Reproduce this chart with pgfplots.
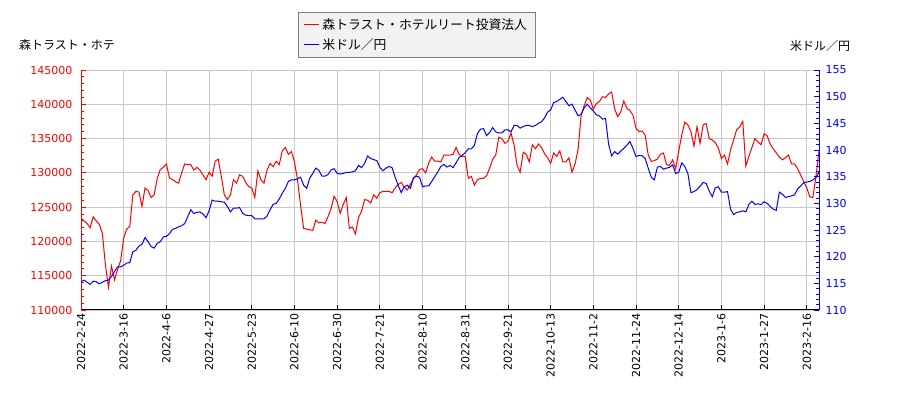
\documentclass[border=0pt]{standalone}
\usepackage{fontspec}
\setmainfont{DejaVu Sans}
\newfontfamily\cjk{Noto Sans CJK JP}
\usepackage{pgfplots}
\usepackage{pgfplotstable}
\pgfplotsset{compat=1.18}
\definecolor{gridgray}{RGB}{200,200,200}
\definecolor{legbg}{RGB}{242,242,242}

% index = trading day (ticks every 14 days), value = close
\pgfplotstableread{
i v
0 123400
1 123000
2 122600
3 122000
4 123600
5 123000
6 122500
7 121200
8 116600
9 113300
10 116400
11 114400
12 115900
13 117200
14 120500
15 121800
16 122200
17 126800
18 127300
19 127200
20 125100
21 127800
22 127400
23 126400
24 126800
25 129200
26 130500
27 130800
28 131300
29 129300
30 129000
31 128700
32 128500
33 130000
34 131300
35 131200
36 131200
37 130400
38 130800
39 130400
40 129700
41 129000
42 130100
43 129500
44 131700
45 132000
46 129500
47 126800
48 126100
49 126800
50 129000
51 128500
52 129700
53 129500
54 128600
55 128000
56 127800
57 126400
58 130300
59 129000
60 128500
61 130400
62 131400
63 130900
64 131700
65 131200
66 133200
67 133700
68 132700
69 133100
70 131600
71 129000
72 125300
73 121900
74 121800
75 121700
76 121600
77 123100
78 122700
79 122800
80 122600
81 123600
82 124800
83 126600
84 125800
85 124100
86 125400
87 126400
88 121900
89 122100
90 121100
91 123500
92 124400
93 126100
94 126000
95 125600
96 126800
97 126300
98 127100
99 127300
100 127300
101 127300
102 127100
103 127800
104 128300
105 128600
106 127900
107 127500
108 128300
109 129100
110 129700
111 130500
112 130600
113 130000
114 131400
115 132300
116 131700
117 131700
118 131600
119 132600
120 132600
121 132600
122 132700
123 133700
124 132700
125 132400
126 132400
127 129200
128 129500
129 128200
130 129000
131 129200
132 129200
133 129600
134 130700
135 132000
136 132600
137 135200
138 135000
139 134300
140 134600
141 135800
142 134100
143 131100
144 130100
145 133000
146 132700
147 131600
148 134100
149 133500
150 134200
151 133700
152 132800
153 132200
154 131400
155 132900
156 132400
157 133200
158 131600
159 131600
160 132200
161 130100
162 131300
163 133400
164 138400
165 139800
166 141000
167 140600
168 139300
169 140100
170 140400
171 141100
172 141000
173 141500
174 141800
175 139300
176 138200
177 138900
178 140500
179 139400
180 139100
181 138400
182 136500
183 136000
184 136100
185 135500
186 132600
187 131650
188 131800
189 132000
190 132700
191 132900
192 131200
193 131100
194 131900
195 130600
196 133200
197 135500
198 137400
199 137000
200 136000
201 133900
202 136750
203 134300
204 137000
205 137200
206 135000
207 134800
208 134400
209 133600
210 132100
211 132600
212 131300
213 133350
214 134800
215 136300
216 136700
217 137500
218 131000
219 132400
220 133700
221 135000
222 134500
223 134100
224 135700
225 135400
226 134200
227 133500
228 132900
229 132300
230 131900
231 132200
232 132600
233 131300
234 131300
235 130600
236 129700
237 128700
238 127800
239 126500
240 126400
241 129500
242 133200
}\reit

\pgfplotstableread{
i v
0 115.3
1 115.6
2 115.2
3 114.8
4 115.4
5 115.3
6 114.9
7 115.2
8 115.5
9 115.6
10 116.3
11 117.2
12 118.1
13 118.1
14 118.4
15 118.8
16 118.9
17 120.9
18 121.2
19 122.0
20 122.3
21 123.6
22 122.8
23 121.9
24 121.6
25 122.5
26 122.8
27 123.7
28 123.8
29 124.3
30 125.1
31 125.3
32 125.6
33 125.8
34 126.2
35 127.5
36 128.8
37 128.1
38 128.3
39 128.4
40 128.0
41 127.3
42 128.6
43 130.6
44 130.4
45 130.4
46 130.3
47 130.2
48 129.4
49 128.4
50 129.1
51 129.1
52 129.2
53 128.1
54 127.8
55 127.7
56 127.7
57 127.1
58 127.1
59 127.1
60 127.1
61 127.6
62 128.8
63 129.8
64 130.0
65 130.8
66 131.9
67 132.8
68 134.1
69 134.4
70 134.4
71 134.6
72 134.9
73 133.4
74 132.8
75 134.7
76 135.6
77 136.6
78 136.2
79 135.1
80 135.1
81 135.4
82 136.25
83 136.5
84 135.6
85 135.5
86 135.6
87 135.8
88 135.8
89 135.9
90 136.1
91 137.1
92 136.7
93 137.5
94 138.9
95 138.4
96 138.2
97 138.0
98 136.75
99 136.1
100 136.6
101 136.9
102 136.7
103 134.9
104 133.4
105 132.0
106 133.1
107 133.4
108 132.8
109 134.8
110 135.1
111 134.9
112 133.1
113 133.25
114 133.25
115 134.1
116 135.0
117 135.9
118 136.9
119 137.3
120 136.8
121 137.1
122 136.7
123 137.6
124 138.6
125 139.0
126 139.5
127 140.2
128 140.2
129 140.9
130 143.1
131 143.9
132 144.0
133 142.7
134 143.3
135 144.2
136 143.4
137 143.2
138 143.2
139 143.75
140 143.8
141 143.4
142 144.6
143 144.6
144 144.1
145 144.4
146 144.6
147 144.6
148 144.4
149 144.6
150 145.0
151 145.3
152 146.0
153 147.1
154 147.5
155 148.9
156 149.1
157 149.5
158 149.9
159 149.1
160 148.3
161 148.6
162 147.5
163 146.4
164 146.7
165 147.9
166 148.6
167 147.9
168 147.3
169 146.6
170 146.4
171 145.8
172 145.9
173 141.1
174 138.9
175 139.7
176 139.2
177 139.8
178 140.3
179 140.9
180 141.6
181 140.3
182 138.75
183 139.0
184 138.9
185 138.4
186 136.6
187 134.9
188 134.4
189 136.8
190 136.9
191 136.4
192 136.6
193 136.75
194 137.2
195 135.6
196 135.8
197 137.6
198 136.9
199 135.6
200 132.0
201 132.2
202 132.6
203 133.2
204 133.9
205 133.75
206 132.3
207 131.25
208 132.9
209 133.1
210 132.1
211 132.1
212 132.2
213 128.9
214 127.9
215 128.3
216 128.4
217 128.6
218 128.4
219 129.8
220 130.4
221 129.8
222 129.9
223 129.75
224 130.3
225 130.0
226 129.4
227 128.9
228 128.7
229 132.1
230 131.7
231 131.1
232 131.25
233 131.4
234 131.6
235 132.7
236 133.25
237 133.9
238 134.0
239 134.1
240 134.4
241 134.8
242 135.9
}\usdjpy

\begin{document}
\begin{tikzpicture}
\path[use as bounding box] (0,0) rectangle (900bp,400bp);

\begin{axis}[
  at={(81bp,90bp)}, anchor=south west,
  width=738bp, height=240bp, scale only axis,
  xmin=0, xmax=242, ymin=110000, ymax=145000,
  enlargelimits=false,
  axis x line*=bottom, axis y line*=left,
  x axis line style={black, line width=1bp, -},
  y axis line style={red, line width=1bp, -},
  tick align=inside,
  major tick length=5bp, minor tick length=3bp,
  xtick={0,14,...,238},
  xticklabels={2022-2-24,2022-3-16,2022-4-6,2022-4-27,2022-5-23,2022-6-10,2022-6-30,2022-7-21,2022-8-10,2022-8-31,2022-9-21,2022-10-13,2022-11-2,2022-11-24,2022-12-14,2023-1-6,2023-1-27,2023-2-16},
  xticklabel style={rotate=90, anchor=east, font=\fontsize{11bp}{13bp}\selectfont},
  xtick style={black, line width=0.8bp},
  ytick={110000,115000,...,145000},
  minor y tick num=4,
  ytick style={red, line width=0.8bp},
  yticklabel style={red, xshift=-5bp, font=\fontsize{11bp}{13bp}\selectfont,
    /pgf/number format/fixed, /pgf/number format/precision=0,
    /pgf/number format/1000 sep={}, /pgf/number format/assume math mode=true},
  scaled y ticks=false,
  grid=major,
  major grid style={gridgray, line width=0.8bp},
  ylabel={\cjk 森トラスト・ホテ},
  every axis y label/.style={at={(rel axis cs:0,1)}, anchor=base, xshift=-14bp, yshift=20bp, font=\fontsize{12bp}{14bp}\selectfont},
]
\addplot[red, line width=1bp] table[x=i, y=v] {\reit};
\end{axis}

\begin{axis}[
  at={(81bp,90bp)}, anchor=south west,
  width=738bp, height=240bp, scale only axis,
  xmin=0, xmax=242, ymin=110, ymax=155,
  enlargelimits=false,
  axis y line*=right, axis x line=none,
  y axis line style={blue, line width=1bp, -},
  tick align=inside,
  major tick length=5bp, minor tick length=3bp,
  ytick={110,115,...,155},
  minor y tick num=4,
  ytick style={blue, line width=0.8bp},
  yticklabel style={blue, xshift=3bp, font=\fontsize{11bp}{13bp}\selectfont,
    /pgf/number format/fixed, /pgf/number format/precision=0,
    /pgf/number format/assume math mode=true},
  scaled y ticks=false,
  ylabel={\cjk 米ドル／円},
  every axis y label/.style={at={(rel axis cs:1,1)}, anchor=base, xshift=1bp, yshift=20bp, font=\fontsize{12bp}{14bp}\selectfont},
  legend style={at={(0.4546,1.054)}, anchor=south, draw=gray, fill=legbg,
    font=\cjk\fontsize{12.8bp}{15bp}\selectfont, row sep=2bp,
    inner xsep=5bp, inner ysep=3bp,
    nodes={inner sep=3bp}},
  legend cell align=left,
  legend image code/.code={\draw[#1, line width=1.5bp] (0bp,0bp) -- (15bp,0bp);},
]
\addlegendimage{red}
\addlegendentry{森トラスト・ホテルリート投資法人}
\addplot[blue, line width=1bp] table[x=i, y=v] {\usdjpy};
\addlegendentry{米ドル／円}
\end{axis}
\end{tikzpicture}
\end{document}
